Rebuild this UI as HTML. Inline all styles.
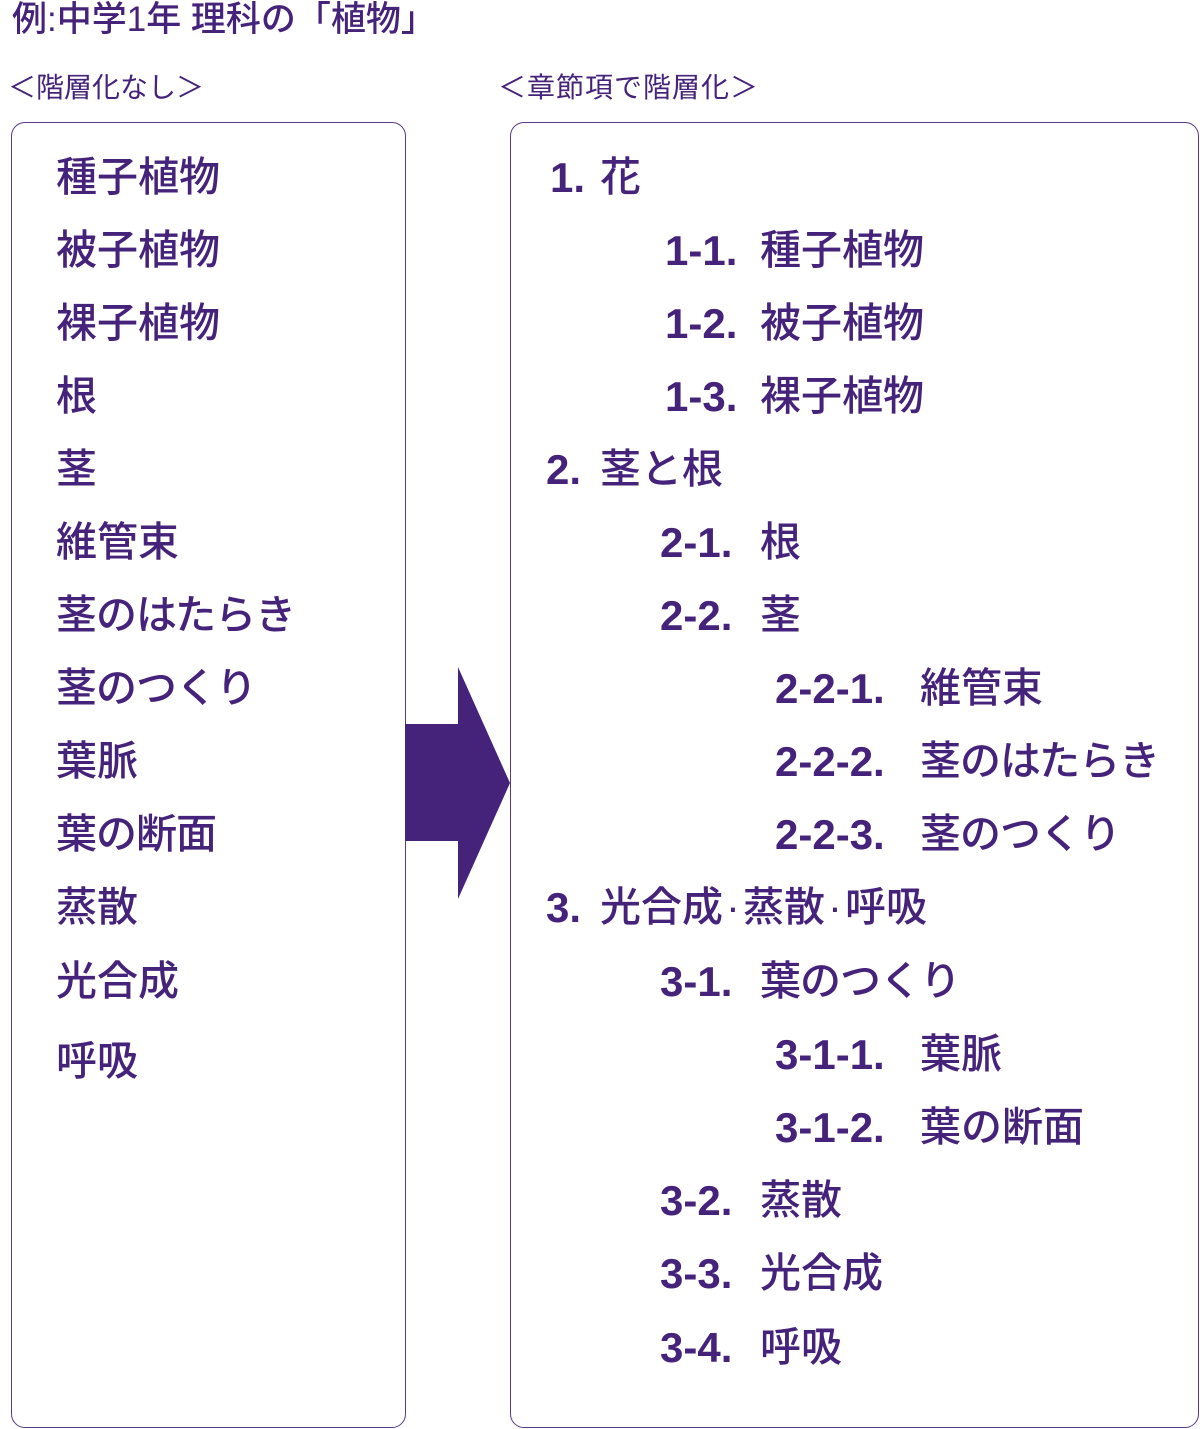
<!DOCTYPE html>
<html><head><meta charset="utf-8"><style>
html,body{margin:0;padding:0;background:#fff;}
body{width:1200px;height:1429px;position:relative;overflow:hidden;font-family:"Liberation Sans","Noto Sans CJK JP",sans-serif;color:#46237a;}
.t{position:absolute;white-space:nowrap;line-height:1;font-size:41px;font-weight:500;}
.n{font-weight:700;font-size:42px;}
.box{position:absolute;border:1.5px solid #5a3a8a;border-radius:14px;box-sizing:border-box;}
.d{display:inline-block;width:20px;text-align:center;}
.k{letter-spacing:-1px;}
</style></head><body>
<div class="t" style="left:12px;top:2px;font-size:35px;">例:中学1年 理科の「植物」</div>
<div class="t" style="left:8px;top:74px;font-size:28px;font-weight:400;">＜階層化なし＞</div>
<div class="t" style="left:498px;top:74px;font-size:28px;font-weight:400;letter-spacing:1px;">＜章節項で階層化＞</div>
<div class="box" style="left:11px;top:122px;width:395px;height:1306px;"></div>
<div class="box" style="left:510px;top:122px;width:689px;height:1306px;"></div>
<svg style="position:absolute;left:0;top:0" width="1200" height="1429"><polygon points="405,724 458,724 458,667 510,783 458,899 458,841 405,841" fill="#46237a"/></svg>

<div class="t" style="left:56px;top:157px">種子植物</div>
<div class="t" style="left:56px;top:230px">被子植物</div>
<div class="t" style="left:56px;top:303px">裸子植物</div>
<div class="t" style="left:56px;top:376px">根</div>
<div class="t" style="left:56px;top:449px">茎</div>
<div class="t" style="left:56px;top:522px">維管束</div>
<div class="t k" style="left:56px;top:595px">茎のはたらき</div>
<div class="t k" style="left:56px;top:668px">茎のつくり</div>
<div class="t" style="left:56px;top:741px">葉脈</div>
<div class="t k" style="left:56px;top:814px">葉の断面</div>
<div class="t" style="left:56px;top:887px">蒸散</div>
<div class="t" style="left:56px;top:961px">光合成</div>
<div class="t" style="left:56px;top:1041px">呼吸</div>

<div class="t n" style="left:550px;top:157px">1.</div><div class="t" style="left:600px;top:157px">花</div>
<div class="t n" style="left:665px;top:230px">1-1.</div><div class="t" style="left:760px;top:230px">種子植物</div>
<div class="t n" style="left:665px;top:303px">1-2.</div><div class="t" style="left:760px;top:303px">被子植物</div>
<div class="t n" style="left:665px;top:376px">1-3.</div><div class="t" style="left:760px;top:376px">裸子植物</div>
<div class="t n" style="left:546px;top:449px">2.</div><div class="t" style="left:600px;top:449px">茎と根</div>
<div class="t n" style="left:660px;top:522px">2-1.</div><div class="t" style="left:760px;top:522px">根</div>
<div class="t n" style="left:660px;top:595px">2-2.</div><div class="t" style="left:760px;top:595px">茎</div>
<div class="t n" style="left:775px;top:668px">2-2-1.</div><div class="t" style="left:920px;top:668px">維管束</div>
<div class="t n" style="left:775px;top:741px">2-2-2.</div><div class="t k" style="left:920px;top:741px">茎のはたらき</div>
<div class="t n" style="left:775px;top:814px">2-2-3.</div><div class="t k" style="left:920px;top:814px">茎のつくり</div>
<div class="t n" style="left:546px;top:887px">3.</div><div class="t" style="left:600px;top:887px">光合成<span class="d">·</span>蒸散<span class="d">·</span>呼吸</div>
<div class="t n" style="left:660px;top:961px">3-1.</div><div class="t k" style="left:760px;top:961px">葉のつくり</div>
<div class="t n" style="left:775px;top:1034px">3-1-1.</div><div class="t" style="left:920px;top:1034px">葉脈</div>
<div class="t n" style="left:775px;top:1107px">3-1-2.</div><div class="t" style="left:920px;top:1107px">葉の断面</div>
<div class="t n" style="left:660px;top:1180px">3-2.</div><div class="t" style="left:760px;top:1180px">蒸散</div>
<div class="t n" style="left:660px;top:1253px">3-3.</div><div class="t" style="left:760px;top:1253px">光合成</div>
<div class="t n" style="left:660px;top:1327px">3-4.</div><div class="t" style="left:760px;top:1327px">呼吸</div>
</body></html>
